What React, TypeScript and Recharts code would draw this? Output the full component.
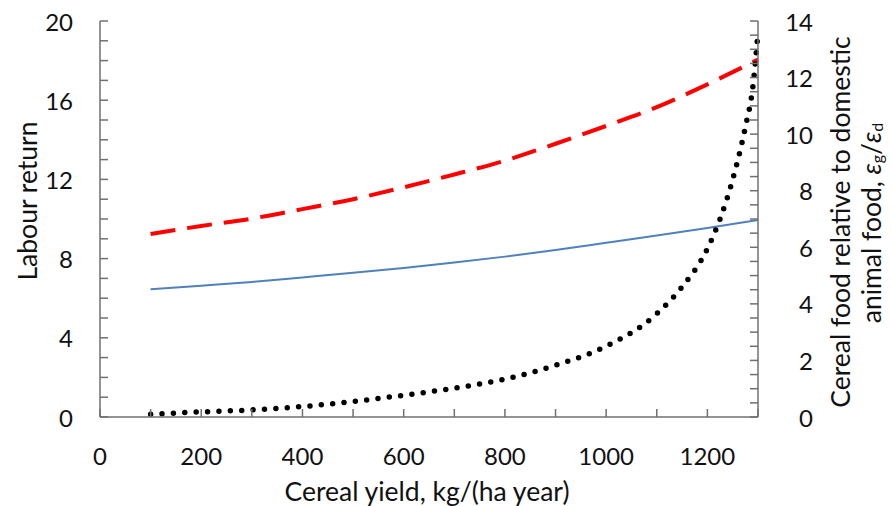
import React from 'react';
import { ComposedChart, Line, XAxis, YAxis } from 'recharts';

// cereal yield, kg/(ha year)
const yieldPoints = [100, 200, 300, 400, 500, 600, 700, 800, 900, 1000, 1100, 1200, 1300];
// labour return (left axis)
const labourDashed = [9.24, 9.65, 10.02, 10.5, 11.0, 11.6, 12.25, 12.95, 13.8, 14.7, 15.65, 16.8, 18.05];
const labourSolid = [6.45, 6.63, 6.82, 7.05, 7.28, 7.53, 7.8, 8.1, 8.43, 8.8, 9.17, 9.55, 9.95];
// cereal food relative to domestic animal food (right axis)
const ratioPoints = [100, 200, 300, 400, 500, 600, 700, 800, 900, 1000, 1100, 1150, 1200, 1225, 1250, 1275, 1290, 1300];
const ratioValues = [0.1, 0.18, 0.25, 0.37, 0.55, 0.77, 1.02, 1.34, 1.83, 2.5, 3.65, 4.6, 5.95, 7.0, 8.4, 10.25, 11.7, 13.6];

const xTicks = [0, 100, 200, 300, 400, 500, 600, 700, 800, 900, 1000, 1100, 1200, 1300];
const leftTicks = [0, 1, 2, 3, 4, 5, 6, 7, 8, 9, 10, 11, 12, 13, 14, 15, 16, 17, 18, 19, 20];
const rightTicks = [0, 0.5, 1, 1.5, 2, 2.5, 3, 3.5, 4, 4.5, 5, 5.5, 6, 6.5, 7, 7.5, 8, 8.5, 9, 9.5, 10, 10.5, 11, 11.5, 12, 12.5, 13, 13.5, 14];

const FONT = 'Lato, "Open Sans", sans-serif';
const AXIS = '#707070';
const TEXT = '#111';
const FS = 24;
const TITLE_FS = 26.5;

// one row per x, series left empty where they have no reading
const allX = Array.from(new Set([...yieldPoints, ...ratioPoints])).sort((a, b) => a - b);
const data = allX.map((x) => {
  const i = yieldPoints.indexOf(x);
  const j = ratioPoints.indexOf(x);
  return {
    x,
    dashed: i >= 0 ? labourDashed[i] : undefined,
    solid: i >= 0 ? labourSolid[i] : undefined,
    ratio: j >= 0 ? ratioValues[j] : undefined,
  };
});

function BottomTick({ x, y, payload }: any) {
  const v = payload.value;
  return (
    <g>
      <line x1={x} x2={x} y1={y} y2={y - 8} stroke={AXIS} strokeWidth={1.5} />
      {v % 200 === 0 && (
        <text x={x} y={y + 38} textAnchor="middle" dominantBaseline="central" fontSize={FS} fontFamily={FONT} fill={TEXT}>
          {v}
        </text>
      )}
    </g>
  );
}

function TopTick({ x, y }: any) {
  return <line x1={x} x2={x} y1={y} y2={y + 7} stroke={AXIS} strokeWidth={1.5} />;
}

function LeftTick({ x, y, payload }: any) {
  const v = payload.value;
  return (
    <g>
      <line x1={x} x2={x + 8} y1={y} y2={y} stroke={AXIS} strokeWidth={1.5} />
      {v % 4 === 0 && (
        <text x={x - 27} y={y} textAnchor="end" dominantBaseline="central" fontSize={FS} fontFamily={FONT} fill={TEXT}>
          {v}
        </text>
      )}
    </g>
  );
}

function RightTick({ x, y, payload }: any) {
  const v = payload.value;
  return (
    <g>
      <line x1={x} x2={x - 8} y1={y} y2={y} stroke={AXIS} strokeWidth={1.5} />
      {Number.isInteger(v) && v % 2 === 0 && (
        <text x={x + 55} y={y} textAnchor="end" dominantBaseline="central" fontSize={FS} fontFamily={FONT} fill={TEXT}>
          {v}
        </text>
      )}
    </g>
  );
}

export default function App() {
  return (
    <div style={{ position: 'absolute', left: 0, top: 0, width: 892, height: 506, background: '#fff' }}>
      <ComposedChart
        width={892}
        height={506}
        data={data}
        margin={{ top: 21, right: 74, bottom: 39, left: 40 }}
        style={{ fontFamily: FONT }}
      >
        <XAxis
          dataKey="x"
          type="number"
          domain={[0, 1300]}
          ticks={xTicks}
          interval={0}
          height={50}
          tickSize={0}
          tickMargin={0}
          tickLine={false}
          tick={<BottomTick />}
          axisLine={{ stroke: AXIS, strokeWidth: 1.5 }}
        />
        <XAxis
          xAxisId="top"
          orientation="top"
          dataKey="x"
          type="number"
          domain={[0, 1300]}
          ticks={xTicks}
          interval={0}
          height={0}
          tickSize={0}
          tickMargin={0}
          tickLine={false}
          tick={<TopTick />}
          axisLine={{ stroke: AXIS, strokeWidth: 1.5 }}
        />
        <YAxis
          yAxisId="left"
          domain={[0, 20]}
          ticks={leftTicks}
          interval={0}
          width={60}
          tickSize={0}
          tickMargin={0}
          tickLine={false}
          tick={<LeftTick />}
          axisLine={{ stroke: AXIS, strokeWidth: 1.5 }}
        />
        <YAxis
          yAxisId="right"
          orientation="right"
          domain={[0, 14]}
          ticks={rightTicks}
          interval={0}
          width={60}
          tickSize={0}
          tickMargin={0}
          tickLine={false}
          tick={<RightTick />}
          axisLine={{ stroke: AXIS, strokeWidth: 1.5 }}
        />
        <Line
          yAxisId="left"
          dataKey="dashed"
          type="monotone"
          stroke="#ff0000"
          strokeWidth={4}
          strokeDasharray="25 12"
          dot={false}
          connectNulls
          isAnimationActive={false}
        />
        <Line
          yAxisId="left"
          dataKey="solid"
          type="monotone"
          stroke="#4f81bd"
          strokeWidth={2}
          dot={false}
          connectNulls
          isAnimationActive={false}
        />
        <Line
          yAxisId="right"
          dataKey="ratio"
          type="monotone"
          stroke="#000"
          strokeWidth={5.5}
          strokeDasharray="0 11.4"
          strokeLinecap="round"
          dot={false}
          connectNulls
          isAnimationActive={false}
        />
      </ComposedChart>
      <svg
        width={892}
        height={506}
        style={{ position: 'absolute', left: 0, top: 0, pointerEvents: 'none' }}
        fontFamily={FONT}
        fontSize={TITLE_FS}
        fill={TEXT}
      >
        <text x={27} y={201} textAnchor="middle" dominantBaseline="central" transform="rotate(-90 27 201)">
          Labour return
        </text>
        <text x={427} y={491} textAnchor="middle" dominantBaseline="central">
          Cereal yield, kg/(ha year)
        </text>
        <text x={840} y={222} textAnchor="middle" dominantBaseline="central" transform="rotate(-90 840 222)">
          Cereal food relative to domestic
        </text>
        <text x={871} y={223} textAnchor="middle" dominantBaseline="central" transform="rotate(-90 871 223)">
          animal food,{'  '}
          <tspan fontStyle="italic">ε</tspan>
          <tspan fontSize={16} dy={5}>g</tspan>
          <tspan dy={-5}>/</tspan>
          <tspan fontStyle="italic">ε</tspan>
          <tspan fontSize={16} dy={5}>d</tspan>
        </text>
      </svg>
    </div>
  );
}
